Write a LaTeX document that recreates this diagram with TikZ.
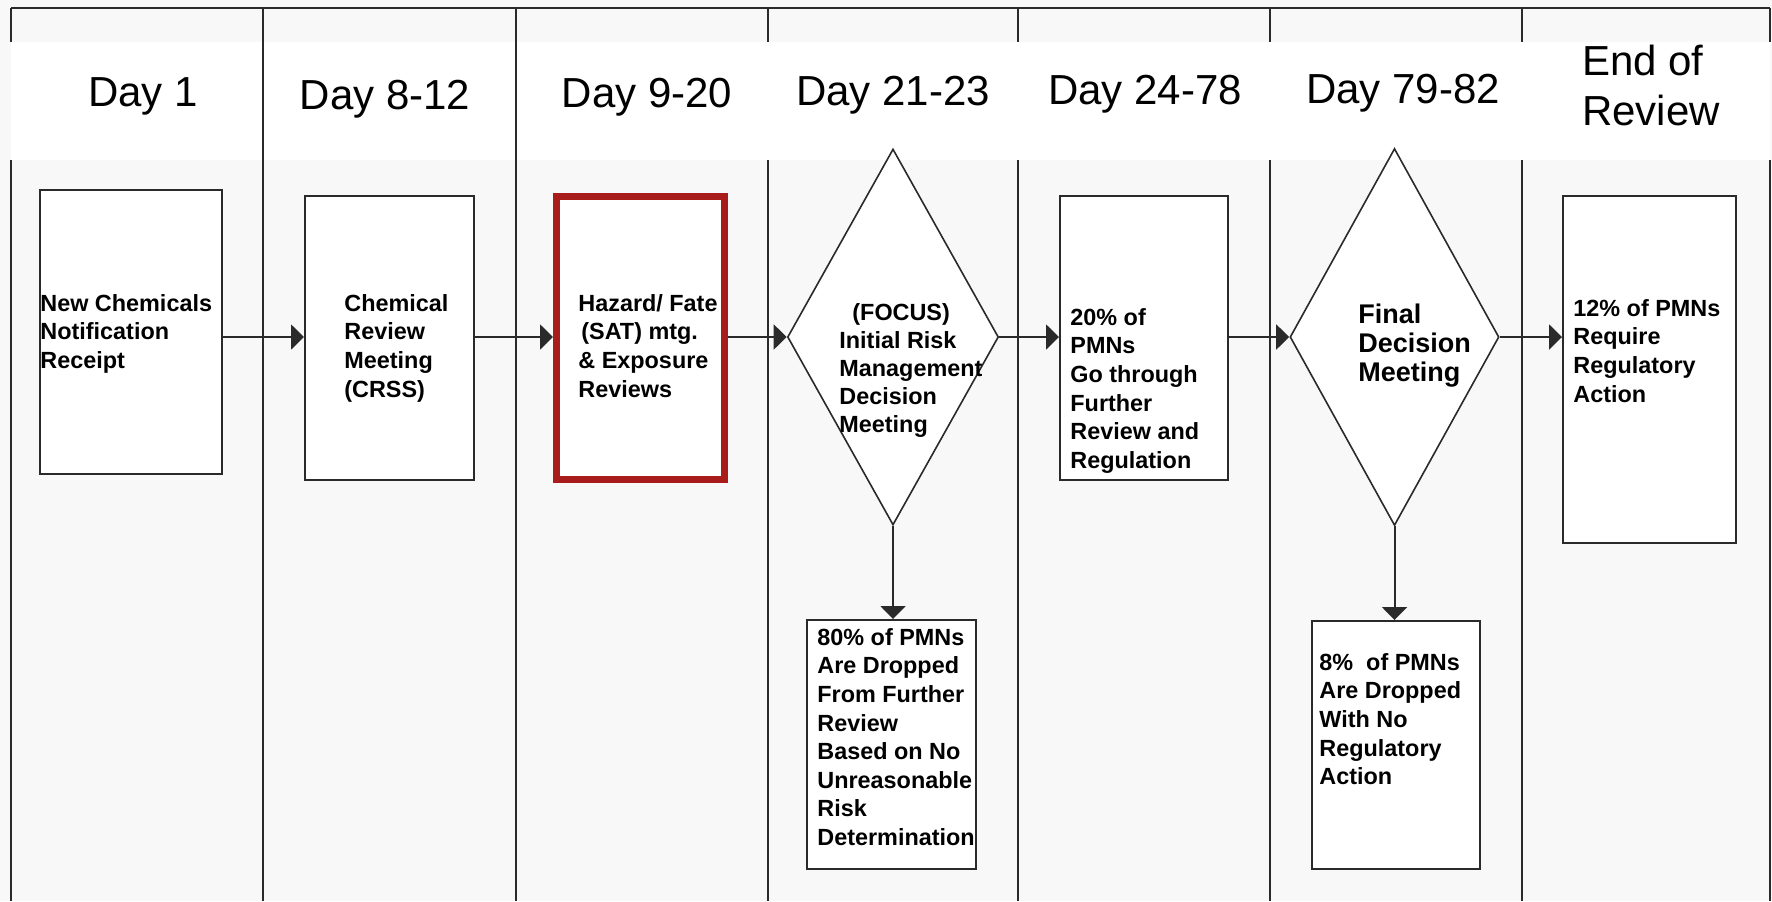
\documentclass[tikz,border=0pt]{standalone}
\usepackage{fontspec}
\setmainfont{Liberation Sans}
\usetikzlibrary{shapes.geometric,arrows.meta}
\definecolor{lanebg}{HTML}{F8F8F8}
\definecolor{laneline}{HTML}{2A2A2A}
\definecolor{satred}{HTML}{A81C1C}

\begin{document}
\begin{tikzpicture}[x=0.5pt,y=-0.5pt,
  lane/.style={draw=laneline, line width=1pt},
  box/.style={draw=laneline, line width=1pt, fill=white, inner sep=0pt},
  decide/.style={diamond, draw=laneline, line width=0.8pt, fill=white, inner sep=0pt},
  flow/.style={draw=laneline, line width=1pt, -{Triangle[length=6.5pt,width=12.5pt]}},
  txt/.style={anchor=north west, inner sep=0pt, align=left, font=\fontsize{11.7}{14.3}\selectfont\bfseries},
  day/.style={inner sep=0pt, align=left, font=\fontsize{21}{25}\selectfont}]
\useasboundingbox (0,0) rectangle (1772,901);
\fill[lanebg] (0,0) rectangle (1772,901);
\fill[white] (11,42) rectangle (1770,160);
% lanes
\draw[lane] (11,8) -- (1770,8);
\foreach \x in {263,516}
  \draw[lane] (\x,8) -- (\x,901);
\foreach \x in {11,768,1018,1270,1522,1770}{
  \draw[lane] (\x,8) -- (\x,42);
  \draw[lane] (\x,160) -- (\x,901);}
% headers
\node[day] (day1) at (143,96) {Day 1};
\node[day] (day8) at (385,99) {Day 8-12};
\node[day] (day9) at (647,97) {Day 9-20};
\node[day] (day21) at (893,95) {Day 21-23};
\node[day] (day24) at (1145,94) {Day 24-78};
\node[day] (day79) at (1403,93) {Day 79-82};
\node[day] (dayend) at (1651,85) {End of\\Review};
% boxes
\node[box, minimum width=91pt, minimum height=142pt] (receipt) at (131,332) {};
\node[box, minimum width=84.5pt, minimum height=142pt] (crss) at (389.5,338) {};
\node[box, draw=satred, line width=3.5pt, minimum width=84pt, minimum height=141.5pt] (sat) at (640.5,338) {};
\node[decide, minimum width=105.5pt, minimum height=188pt] (focus) at (893,337) {};
\node[box, minimum width=84pt, minimum height=142pt] (further) at (1144,338) {};
\node[decide, minimum width=104.5pt, minimum height=188.5pt] (final) at (1394.5,337) {};
\node[box, minimum width=86.5pt, minimum height=173.5pt] (regul) at (1649.5,369.5) {};
\node[box, minimum width=84.5pt, minimum height=124.5pt] (drop80) at (891.5,744.5) {};
\node[box, minimum width=84pt, minimum height=124pt] (drop8) at (1396,745) {};
% texts
\node[txt] (receipt-t) at (40,294) {New Chemicals\\Notification\\Receipt};
\node[txt] (crss-t) at (344,294) {Chemical\\Review\\Meeting\\(CRSS)};
\node[txt] (sat-t) at (578,294) {Hazard/ Fate\\\hspace{1.5pt}(SAT) mtg.\\\& Exposure\\Reviews};
\node[txt, font=\fontsize{11.7}{14}\selectfont\bfseries] (focus-t) at (839,303)
  {\hspace{6.5pt}(FOCUS)\\Initial Risk\\Management\\Decision\\Meeting};
\node[txt] (further-t) at (1070,308) {20\% of\\PMNs\\Go through\\Further\\Review and\\Regulation};
\node[txt, font=\fontsize{13.5}{14.5}\selectfont\bfseries] (final-t) at (1358,304) {Final\\Decision\\Meeting};
\node[txt] (regul-t) at (1573,299) {12\% of PMNs\\Require\\Regulatory\\Action};
\node[txt] (drop80-t) at (817,628) {80\% of PMNs\\Are Dropped\\From Further\\Review\\Based on No\\Unreasonable\\Risk\\Determination};
\node[txt] (drop8-t) at (1319,653) {8\%\ \ of PMNs\\Are Dropped\\With No\\Regulatory\\Action};
% connectors
\draw[flow] (receipt.east |- focus) -- (crss.west |- focus);
\draw[flow] (crss.east |- focus) -- (sat.west |- focus);
\draw[flow] (sat.east |- focus) -- (focus.west);
\draw[flow] (focus.east) -- (further.west |- focus);
\draw[flow] (further.east |- focus) -- (final.west);
\draw[flow] (final.east) -- (regul.west |- focus);
\draw[flow] (focus.south) -- (drop80.north -| focus);
\draw[flow] (final.south) -- (drop8.north -| final);
\end{tikzpicture}
\end{document}
